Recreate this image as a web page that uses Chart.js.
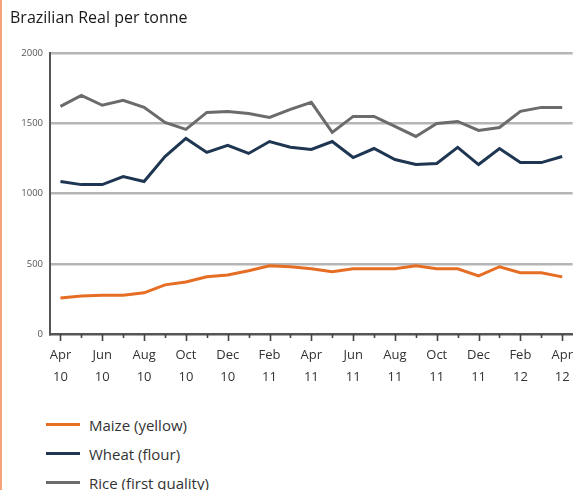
<!DOCTYPE html>
<html>
<head>
<meta charset="utf-8">
<script src="https://cdn.jsdelivr.net/npm/chart.js@4"></script>
<style>
  body { margin: 0; background: #fff; font-family: "Open Sans", sans-serif; }
  #wrap { position: relative; width: 583px; height: 490px; overflow: hidden; }
  #stripe { position: absolute; left: 0; top: 0; width: 2px; height: 490px; background: #f3a577; }
  #box { position: absolute; left: 0; top: 0; width: 583px; height: 394px; }
  #legend { position: absolute; left: 46px; top: 410px; }
  .item { display: flex; align-items: center; height: 29px; font-size: 15px; color: #333; }
  .item span.sw { display: inline-block; width: 34px; height: 3px; margin-right: 9px; }
</style>
</head>
<body>
<div id="wrap">
  <div id="box"><canvas id="chart"></canvas></div>
  <div id="stripe"></div>
  <div id="legend"></div>
</div>
<script>
const months = ['Apr','May','Jun','Jul','Aug','Sep','Oct','Nov','Dec','Jan','Feb','Mar','Apr','May','Jun','Jul','Aug','Sep','Oct','Nov','Dec','Jan','Feb','Mar','Apr']
const years  = ['10','10','10','10','10','10','10','10','10','11','11','11','11','11','11','11','11','11','11','11','11','12','12','12','12']

const maize = [257,271,276,276,293,350,371,407,421,450,486,479,464,443,464,464,464,486,464,464,414,479,436,436,407]
const wheat = [1086,1064,1064,1121,1086,1264,1393,1293,1343,1286,1371,1330,1314,1371,1257,1321,1243,1207,1214,1329,1207,1321,1221,1221,1264]
const rice  = [1621,1700,1629,1664,1614,1507,1457,1578,1585,1571,1543,1600,1650,1436,1550,1550,1479,1407,1500,1514,1450,1471,1586,1614,1614]

const seriesNames = ['Maize (yellow)', 'Wheat (flour)', 'Rice (first quality)']
const seriesColors = ['#e66d24', '#1e3651', '#6b6b6b']

const labels = months.map((m, i) => [m, years[i]])

// petits traits sous l'axe x: longs tous les 2 mois, courts sinon
const tickMarks = {
    id: 'tickMarks',
    afterDraw(chart){
        const ctx = chart.ctx
        const sx = chart.scales.x
        const bottom = chart.chartArea.bottom
        ctx.save()
        ctx.strokeStyle = '#444'
        ctx.lineWidth = 1.6
        for(let i = 0; i < labels.length; i++){
            const x = Math.round(sx.getPixelForTick(i)) + 0.5
            ctx.beginPath()
            ctx.moveTo(x, bottom)
            ctx.lineTo(x, bottom + (i % 2 === 0 ? 7 : 4))
            ctx.stroke()
        }
        ctx.restore()
    }
}

const grafico = new Chart(document.querySelector('canvas#chart'), {
    type: 'line',
    data: {
        labels: labels,
        datasets: [maize, wheat, rice].map((d, i) => ({
            label: seriesNames[i],
            data: d,
            borderColor: seriesColors[i],
            backgroundColor: seriesColors[i],
            borderWidth: 3,
            pointRadius: 0,
            tension: 0
        })).reverse()
    },
    options: {
        responsive: true,
        maintainAspectRatio: false,
        animation: false,
        layout: { padding: { left: 10, right: 3, top: 0, bottom: 0 } },
        plugins: {
            legend: { display: false },
            tooltip: { enabled: false },
            title: {
                display: true,
                text: 'Brazilian Real per tonne',
                align: 'start',
                color: '#1a1a1a',
                font: { family: 'Open Sans', size: 16, weight: 'normal' },
                padding: { top: 9, bottom: 25 }
            }
        },
        scales: {
            x: {
                offset: true,
                grid: { display: false, drawTicks: false },
                border: { display: true, color: '#555', width: 2.5 },
                ticks: {
                    autoSkip: false,
                    maxRotation: 0,
                    padding: 10,
                    color: '#333',
                    font: { family: 'Open Sans', size: 13, lineHeight: 1.7 },
                    callback: function(v, i){ return i % 2 === 0 ? labels[i] : '' }
                },
                afterFit(scale){ scale.height = 60 }
            },
            y: {
                min: 0,
                max: 2000,
                ticks: {
                    stepSize: 500,
                    padding: 7,
                    color: '#555',
                    font: { family: 'Open Sans', size: 9.5 },
                    callback: v => String(v)
                },
                grid: {
                    drawTicks: false,
                    lineWidth: 2.5,
                    color: ctx => ctx.tick && ctx.tick.value === 0 ? 'rgba(0,0,0,0)' : '#b5b5b5'
                },
                border: { display: true, color: '#555', width: 2 },
                afterFit(scale){ scale.width = 40 }
            }
        }
    },
    plugins: [tickMarks]
})

// légende en html
const legendBox = document.querySelector('div#legend')
seriesNames.forEach((name, i) => {
    const div = document.createElement('div')
    div.className = 'item'
    div.innerHTML = `<span class="sw" style="background:${seriesColors[i]}"></span>${name}`
    legendBox.appendChild(div)
})
</script>
</body>
</html>
